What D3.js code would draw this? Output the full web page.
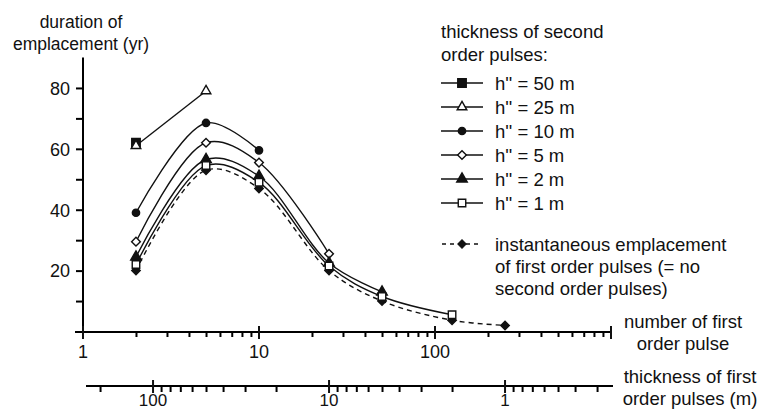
<!DOCTYPE html>
<html>
<head>
<meta charset="utf-8">
<script src="https://cdn.jsdelivr.net/npm/d3@7"></script>
<style>
  body { margin: 0; background: #fff; }
  svg text { font-family: "Liberation Sans", Arial, sans-serif; font-size: 18.5px; fill: #111; }
</style>
</head>
<body>
<div id="chart"></div>
<script>
// number of first order pulses at which values were computed
var pulseCounts = [2, 5, 10, 25, 50, 125, 250];

var seriesNames = ["h'' = 50 m", "h'' = 25 m", "h'' = 10 m", "h'' = 5 m", "h'' = 2 m", "h'' = 1 m"];
var h50Values = [62];
var h25Values = [61, 79];
var h10Values = [39, 68.5, 59.5];
var h5Values = [29.5, 62, 55.5, 25.5];
var h2Values = [24.5, 56.5, 51, 22.5, 13];
var h1Values = [22, 54.5, 49, 21.5, 11.5, 5.5];
var instantValues = [20, 53, 47, 20, 10, 3.7, 2];

var yTicks = [0, 10, 20, 30, 40, 50, 60, 70, 80];
var yLabels = [20, 40, 60, 80];
var countMajor = [1, 10, 100, 1000];
var thickMajor = [100, 10, 1];

var W = 761, H = 410;
var svg = d3.select("#chart").append("svg").attr("width", W).attr("height", H);

var x = d3.scaleLog().domain([1, 1000]).range([83, 611]);
var y = d3.scaleLinear().domain([0, 90]).range([331.5, 57.5]);
var xt = d3.scaleLog().domain([250, 0.25]).range([83, 611]);

// ---- y axis
var yAxis = d3.axisLeft(y).tickValues(yTicks).tickSize(7)
  .tickFormat(function(d) { return yLabels.indexOf(d) >= 0 ? d : ""; });
var gy = svg.append("g").attr("transform", "translate(83,0)").call(yAxis);
gy.select(".domain").attr("stroke-width", 2).attr("d", "M0," + y(90) + "V" + y(0));
gy.selectAll(".tick line").attr("stroke-width", 2);
gy.selectAll(".tick text").attr("font-size", null).attr("x", -13).attr("dy", "0.35em")
  .style("font-family", "Liberation Sans, Arial").style("font-size", "18px");

// ---- x axis: number of first order pulses
function minorTicks(lo, hi) {
  var out = [];
  for (var e = lo; e < hi; e++) {
    for (var k = 2; k <= 9; k++) out.push(k * Math.pow(10, e));
  }
  return out;
}
var gx = svg.append("g").attr("transform", "translate(0,332)");
gx.call(d3.axisBottom(x).tickValues(minorTicks(0, 3)).tickSize(5).tickFormat(""));
gx.select(".domain").attr("stroke-width", 2).attr("d", "M" + (x(1) - 8) + ",0H" + x(1000));
gx.selectAll(".tick line").attr("stroke-width", 2);
gx.selectAll("line.major").data(countMajor).enter().append("line")
  .attr("x1", function(d) { return x(d); }).attr("x2", function(d) { return x(d); })
  .attr("y1", -6).attr("y2", 7).attr("stroke", "#111").attr("stroke-width", 2);
gx.selectAll("text.lab").data(countMajor.slice(0, 3)).enter().append("text")
  .attr("x", function(d) { return x(d); }).attr("y", 26).attr("text-anchor", "middle")
  .style("font-size", "18px")
  .text(function(d) { return d; });

// ---- second x axis: thickness of first order pulses
var gt = svg.append("g").attr("transform", "translate(0,386)");
var thickMinor = [200].concat(d3.range(90, 10, -10), d3.range(9, 1, -1), [0.9, 0.8, 0.7, 0.6, 0.5, 0.4, 0.3]);
gt.call(d3.axisBottom(xt).tickValues(thickMinor).tickSize(6).tickFormat(""));
gt.select(".domain").attr("stroke-width", 2).attr("d", "M" + (x(1) + 3) + ",0H" + (x(1000) + 2));
gt.selectAll(".tick line").attr("stroke-width", 2);
gt.selectAll("line.major").data(thickMajor).enter().append("line")
  .attr("x1", function(d) { return xt(d); }).attr("x2", function(d) { return xt(d); })
  .attr("y1", -6).attr("y2", 7).attr("stroke", "#111").attr("stroke-width", 2);
gt.selectAll("text.lab").data(thickMajor).enter().append("text")
  .attr("x", function(d) { return xt(d); }).attr("y", 19.5).attr("text-anchor", "middle")
  .style("font-size", "17px")
  .text(function(d) { return d; });

// ---- axis titles
svg.append("text").attr("x", 81).attr("y", 28).attr("text-anchor", "middle").style("font-size", "17.5px").text("duration of");
svg.append("text").attr("x", 81).attr("y", 50).attr("text-anchor", "middle").style("font-size", "17.5px").text("emplacement (yr)");
svg.append("text").attr("x", 683).attr("y", 328).attr("text-anchor", "middle").text("number of first");
svg.append("text").attr("x", 683).attr("y", 350).attr("text-anchor", "middle").text("order pulse");
svg.append("text").attr("x", 690).attr("y", 383).attr("text-anchor", "middle").text("thickness of first");
svg.append("text").attr("x", 690).attr("y", 405).attr("text-anchor", "middle").text("order pulses (m)");

// ---- markers
var markers = [
  { type: d3.symbolSquare, size: 72, fill: "#111", rot: 0 },
  { type: d3.symbolTriangle, size: 40, fill: "#fff", rot: 0 },
  { type: d3.symbolCircle, size: 42, fill: "#111", rot: 0 },
  { type: d3.symbolSquare, size: 38, fill: "#fff", rot: 45 },
  { type: d3.symbolTriangle, size: 48, fill: "#111", rot: 0 },
  { type: d3.symbolSquare, size: 56, fill: "#fff", rot: 0 },
  { type: d3.symbolSquare, size: 36, fill: "#111", rot: 45 }
];

var allSeries = [h50Values, h25Values, h10Values, h5Values, h2Values, h1Values, instantValues].map(function(vals, i) {
  return { idx: i, dashed: i === 6, points: vals.map(function(v, j) { return { n: pulseCounts[j], v: v }; }) };
});

var line = d3.line()
  .x(function(d) { return x(d.n); })
  .y(function(d) { return y(d.v); })
  .curve(d3.curveCatmullRom.alpha(0.5));

var plot = svg.append("g");
// dashed first so solid curves sit on top
var order = [6, 0, 1, 2, 3, 4, 5];
order.forEach(function(i) {
  var s = allSeries[i];
  plot.append("path").datum(s.points)
    .attr("d", line).attr("fill", "none").attr("stroke", "#111")
    .attr("stroke-width", 1.4)
    .attr("stroke-dasharray", s.dashed ? "5,4" : null);
});
order.forEach(function(i) {
  var s = allSeries[i], m = markers[i];
  plot.selectAll(null).data(s.points).enter().append("path")
    .attr("d", d3.symbol().type(m.type).size(m.size))
    .attr("transform", function(d) { return "translate(" + x(d.n) + "," + y(d.v) + ") rotate(" + m.rot + ")"; })
    .attr("fill", m.fill).attr("stroke", "#111").attr("stroke-width", 1.4);
});

// ---- legend
var leg = svg.append("g");
leg.append("text").attr("x", 441).attr("y", 38).text("thickness of second");
leg.append("text").attr("x", 441).attr("y", 61).text("order pulses:");
var rowY = [83, 107, 131, 155, 179, 203];
seriesNames.forEach(function(name, i) {
  var m = markers[i], cy = rowY[i];
  leg.append("line").attr("x1", 441).attr("x2", 483).attr("y1", cy).attr("y2", cy)
    .attr("stroke", "#111").attr("stroke-width", 1.4);
  leg.append("path").attr("d", d3.symbol().type(m.type).size(m.size))
    .attr("transform", "translate(462," + cy + ") rotate(" + m.rot + ")")
    .attr("fill", m.fill).attr("stroke", "#111").attr("stroke-width", 1.4);
  leg.append("text").attr("x", 495).attr("y", cy + 6.5).text(name);
});
leg.append("line").attr("x1", 442).attr("x2", 482).attr("y1", 244).attr("y2", 244)
  .attr("stroke", "#111").attr("stroke-width", 1.4).attr("stroke-dasharray", "4,4");
leg.append("path").attr("d", d3.symbol().type(markers[6].type).size(markers[6].size))
  .attr("transform", "translate(462,244) rotate(45)").attr("fill", "#111").attr("stroke", "#111");
["instantaneous emplacement", "of first order pulses (= no", "second order pulses)"].forEach(function(t, i) {
  leg.append("text").attr("x", 495).attr("y", 250.5 + i * 22).text(t);
});
</script>
</body>
</html>
